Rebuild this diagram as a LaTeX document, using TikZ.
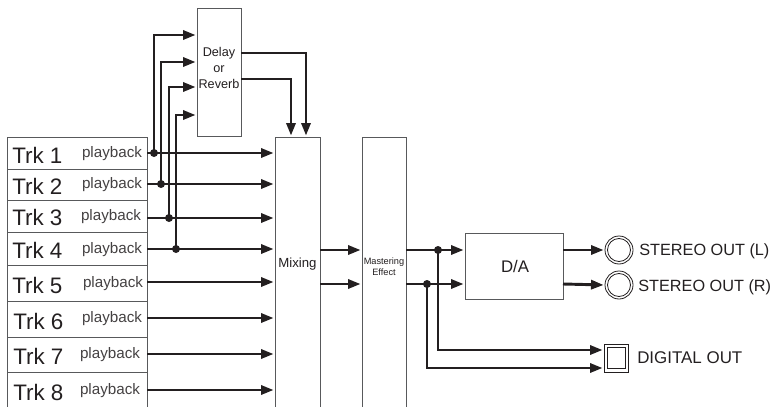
\documentclass[tikz,border=0pt]{standalone}
\usepackage{fontspec}
\setmainfont{Liberation Sans}
\usetikzlibrary{arrows.meta}
\definecolor{ink}{HTML}{231F20}
\definecolor{edge}{HTML}{58595B}
\tikzset{
  px/.style={x=0.75pt,y=-0.75pt},
  blk/.style={draw=edge,line width=0.75pt,fill=white,inner sep=0pt,outer sep=0pt},
  row/.style={draw=edge,line width=0.75pt,inner sep=0pt,outer sep=0pt,minimum width=105pt},
  trk/.style={inner sep=0pt,anchor=west,text=ink,font=\fontsize{16.8}{18}\selectfont},
  pb/.style={inner sep=0pt,text=ink!85,font=\fontsize{11.4}{13}\selectfont},
  sig/.style={draw=ink,line width=2.2pt,-{Triangle[length=9.5pt,width=6.8pt]},shorten >=1pt},
  jn/.style={circle,fill=ink,inner sep=0pt,minimum size=6pt},
  lbl/.style={inner sep=0pt,text=ink,align=center},
  outtxt/.style={inner sep=0pt,anchor=west,text=ink,font=\fontsize{12.2}{14}\selectfont},
  ring/.style={circle,draw=ink,line width=0.6pt,inner sep=0pt,outer sep=0pt},
  sq/.style={rectangle,draw=ink,line width=0.6pt,inner sep=0pt,outer sep=0pt}
}
\begin{document}
\begin{tikzpicture}[px]
\useasboundingbox (0,0) rectangle (779,407);
\clip (0,0) rectangle (779,407);
% tracks
\node[row,minimum height=24pt] (r1) at (77,153) {};
\node[row,minimum height=23.25pt] (r2) at (77,184.5) {};
\node[row,minimum height=24pt] (r3) at (77,216) {};
\node[row,minimum height=24.75pt] (r4) at (77,248.5) {};
\node[row,minimum height=27pt] (r5) at (77,283) {};
\node[row,minimum height=27pt] (r6) at (77,319) {};
\node[row,minimum height=26.25pt] (r7) at (77,354.5) {};
\node[row,minimum height=33pt] (r8) at (77,394) {};
\node[trk] (n1) at (12,155) {Trk 1};
\node[trk] (n2) at (12,186) {Trk 2};
\node[trk] (n3) at (12,217) {Trk 3};
\node[trk] (n4) at (12,250) {Trk 4};
\node[trk] (n5) at (12,285) {Trk 5};
\node[trk] (n6) at (13,321) {Trk 6};
\node[trk] (n7) at (13,356) {Trk 7};
\node[trk] (n8) at (13,392) {Trk 8};
\node[pb] (p1) at (112,154) {playback};
\node[pb] (p2) at (112,185) {playback};
\node[pb] (p3) at (111,217) {playback};
\node[pb] (p4) at (112,250) {playback};
\node[pb] (p5) at (113,284) {playback};
\node[pb] (p6) at (112,319) {playback};
\node[pb] (p7) at (110,355) {playback};
\node[pb] (p8) at (110,391) {playback};
% blocks
\node[blk,minimum width=33pt,minimum height=96pt] (delay) at (219,72) {};
\node[blk,minimum width=33.75pt,minimum height=210pt] (mix) at (297.5,277) {};
\node[blk,minimum width=33pt,minimum height=210pt] (master) at (384,277) {};
\node[blk,minimum width=73.5pt,minimum height=49.5pt] (da) at (514,266) {};
\node[lbl,font=\fontsize{9.5}{12}\selectfont] (delaytxt) at (219,68) {Delay\\or\\Reverb};
\node[lbl,font=\fontsize{9.9}{12}\selectfont] (mixtxt) at (297.5,264) {Mixing};
\node[lbl,font=\fontsize{6.9}{8}\selectfont] (mastertxt) at (384,267) {Mastering\\Effect};
\node[lbl,font=\fontsize{12.6}{14}\selectfont] (datxt) at (515,266) {D/A};
% outputs
\node[ring,minimum size=21pt] (jl) at (619,250) {};
\node[ring,minimum size=17.25pt] (jli) at (619,250) {};
\node[ring,minimum size=21pt] (jr) at (619,285) {};
\node[ring,minimum size=17.25pt] (jri) at (619,285) {};
\node[sq,minimum width=18pt,minimum height=21pt] (dg) at (616,358) {};
\node[sq,minimum width=13.5pt,minimum height=15.75pt] (dgi) at (616,357.5) {};
\node[outtxt] (tl) at (639,251) {STEREO OUT (L)};
\node[outtxt] (tr) at (638,287) {STEREO OUT (R)};
\node[outtxt,font=\fontsize{12.7}{14}\selectfont] (td) at (637,358) {DIGITAL OUT};
% coordinates
\coordinate (t1) at (147,153);
\coordinate (t2) at (147,184);
\coordinate (t3) at (147,218);
\coordinate (t4) at (147,249);
\coordinate (t5) at (147,282);
\coordinate (t6) at (147,318);
\coordinate (t7) at (147,354);
\coordinate (t8) at (147,390);
\coordinate (di1) at (197,35);
\coordinate (di2) at (197,62);
\coordinate (di3) at (197,87);
\coordinate (di4) at (197,115);
\coordinate (do1) at (241,53);
\coordinate (do2) at (241,79);
\coordinate (mi1) at (306,137);
\coordinate (mi2) at (291,137);
\coordinate (mo1) at (320,250);
\coordinate (mo2) at (320,284);
\coordinate (me1) at (406,250);
\coordinate (me2) at (406,284);
\coordinate (dao1) at (563,250);
\coordinate (dao2) at (563,284);
\coordinate (dgt1) at (604,350);
\coordinate (dgt2) at (604,368);
% junctions
\node[jn] (j1) at (154,153) {};
\node[jn] (j2) at (161,184) {};
\node[jn] (j3) at (169,218) {};
\node[jn] (j4) at (176,249) {};
\node[jn] (k1) at (438,250) {};
\node[jn] (k2) at (427,284) {};
% connectors
\foreach \i in {1,...,8} \draw[sig] (t\i) -- (mix.west |- t\i);
\foreach \i in {1,...,4} \draw[sig] (j\i.center) |- (di\i);
\draw[sig] (do1) -| (mi1);
\draw[sig] (do2) -| (mi2);
\draw[sig] (mo1) -- (master.west |- mo1);
\draw[sig] (mo2) -- (master.west |- mo2);
\draw[sig] (me1) -- (da.west |- me1);
\draw[sig] (me2) -- (da.west |- me2);
\draw[sig] (dao1) -- (jl.west);
\draw[sig] (dao2) -- (jr.west);
\draw[sig] (k1.center) |- (dgt1);
\draw[sig] (k2.center) |- (dgt2);
\end{tikzpicture}
\end{document}
